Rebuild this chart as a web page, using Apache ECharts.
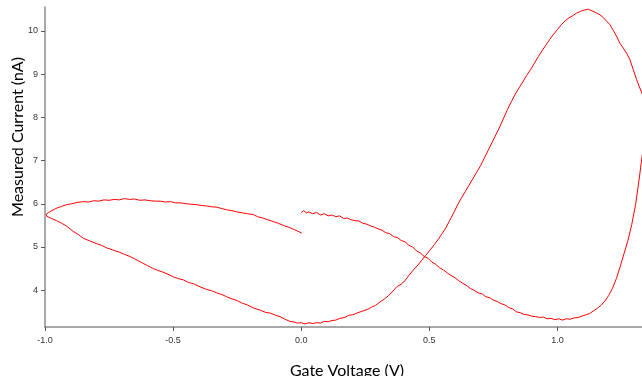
<!DOCTYPE html>
<html>
<head>
<meta charset="utf-8">
<script src="https://cdn.jsdelivr.net/npm/echarts@6/dist/echarts.min.js"></script>
<style>
html,body{margin:0;padding:0;background:#fff;}
#chart{width:642px;height:376px;}
</style>
</head>
<body>
<div id="chart"></div>
<script>
// Forward sweep (starts at 0 V, goes to +V, up the right edge)
const sweepAV = [0.000,0.010,0.020,0.030,0.045,0.060,0.075,0.090,0.105,0.120,0.135,0.150,0.165,0.180,0.195,0.210,0.225,0.240,0.255,0.270,0.285,0.300,0.315,0.330,0.345,0.360,0.375,0.390,0.405,0.420,0.435,0.450,0.465,0.480,0.495,0.510,0.525,0.540,0.555,0.570,0.585,0.600,0.615,0.630,0.645,0.660,0.675,0.690,0.705,0.720,0.735,0.750,0.765,0.780,0.795,0.810,0.825,0.840,0.855,0.870,0.885,0.900,0.915,0.930,0.945,0.960,0.975,0.990,1.005,1.020,1.035,1.050,1.065,1.080,1.095,1.110,1.125,1.140,1.155,1.170,1.185,1.200,1.215,1.230,1.245,1.260,1.275,1.290,1.305,1.320,1.330,1.345,1.350];
const sweepAI = [5.80,5.84,5.79,5.81,5.77,5.80,5.74,5.77,5.72,5.74,5.70,5.72,5.66,5.67,5.63,5.61,5.60,5.55,5.53,5.49,5.46,5.42,5.39,5.33,5.31,5.24,5.22,5.15,5.12,5.04,5.00,4.91,4.86,4.78,4.74,4.65,4.60,4.52,4.47,4.40,4.34,4.29,4.22,4.16,4.11,4.04,4.00,3.94,3.92,3.85,3.83,3.77,3.74,3.69,3.66,3.60,3.57,3.50,3.48,3.44,3.43,3.40,3.39,3.37,3.38,3.34,3.35,3.32,3.34,3.31,3.34,3.33,3.36,3.37,3.40,3.43,3.46,3.52,3.58,3.65,3.75,3.88,4.05,4.27,4.55,4.85,5.15,5.52,5.98,6.62,7.09,7.70,8.05];
// Return sweep (from right edge over the peak down to -1 V)
const sweepBV = [1.340,1.330,1.320,1.309,1.296,1.283,1.270,1.257,1.244,1.230,1.218,1.205,1.192,1.180,1.166,1.150,1.135,1.120,1.105,1.090,1.075,1.060,1.045,1.030,1.015,1.000,0.985,0.970,0.955,0.940,0.925,0.910,0.895,0.880,0.865,0.850,0.835,0.820,0.805,0.790,0.775,0.760,0.745,0.730,0.715,0.700,0.685,0.670,0.655,0.640,0.625,0.610,0.595,0.580,0.565,0.550,0.535,0.520,0.503,0.485,0.470,0.455,0.438,0.420,0.405,0.390,0.373,0.355,0.340,0.325,0.308,0.290,0.275,0.260,0.245,0.230,0.217,0.200,0.185,0.170,0.151,0.135,0.120,0.105,0.090,0.075,0.060,0.045,0.030,0.015,0.000,-0.015,-0.030,-0.044,-0.060,-0.083,-0.100,-0.120,-0.140,-0.160,-0.187,-0.210,-0.230,-0.250,-0.270,-0.291,-0.310,-0.330,-0.350,-0.370,-0.395,-0.420,-0.440,-0.460,-0.480,-0.499,-0.520,-0.540,-0.560,-0.577,-0.600,-0.620,-0.645,-0.668,-0.690,-0.710,-0.735,-0.759,-0.780,-0.800,-0.825,-0.850,-0.870,-0.890,-0.915,-0.935,-0.955,-0.975,-0.993,-1.000];
const sweepBI = [8.40,8.55,8.70,8.87,9.10,9.33,9.48,9.60,9.71,9.88,10.01,10.14,10.22,10.30,10.37,10.42,10.46,10.50,10.48,10.45,10.41,10.35,10.30,10.23,10.14,10.03,9.92,9.80,9.67,9.54,9.40,9.25,9.10,8.97,8.82,8.68,8.53,8.36,8.18,7.98,7.78,7.60,7.42,7.24,7.06,6.88,6.73,6.58,6.43,6.28,6.13,5.97,5.79,5.62,5.45,5.31,5.18,5.06,4.93,4.80,4.69,4.58,4.47,4.34,4.22,4.14,4.08,3.96,3.87,3.80,3.73,3.65,3.61,3.56,3.53,3.50,3.47,3.43,3.42,3.37,3.35,3.31,3.30,3.27,3.28,3.24,3.25,3.23,3.25,3.22,3.25,3.24,3.27,3.28,3.32,3.39,3.42,3.47,3.49,3.54,3.59,3.66,3.70,3.76,3.80,3.85,3.90,3.94,3.99,4.02,4.08,4.15,4.18,4.24,4.27,4.31,4.37,4.42,4.46,4.50,4.57,4.63,4.71,4.78,4.83,4.88,4.93,4.98,5.04,5.08,5.14,5.20,5.29,5.36,5.48,5.55,5.61,5.66,5.71,5.73];
// Final sweep (from -1 V back up to 0 V)
const sweepCV = [-0.995,-0.985,-0.968,-0.950,-0.935,-0.915,-0.895,-0.875,-0.850,-0.830,-0.810,-0.790,-0.770,-0.750,-0.730,-0.710,-0.690,-0.670,-0.650,-0.630,-0.610,-0.590,-0.570,-0.550,-0.530,-0.510,-0.490,-0.470,-0.450,-0.430,-0.410,-0.390,-0.370,-0.350,-0.330,-0.310,-0.291,-0.270,-0.250,-0.230,-0.210,-0.187,-0.170,-0.150,-0.130,-0.110,-0.090,-0.070,-0.050,-0.030,-0.015,0.002];
const sweepCI = [5.76,5.80,5.86,5.91,5.94,5.98,6.00,6.03,6.05,6.04,6.07,6.06,6.09,6.08,6.10,6.09,6.12,6.10,6.11,6.08,6.09,6.07,6.06,6.06,6.04,6.05,6.02,6.02,6.00,5.99,5.98,5.96,5.95,5.93,5.92,5.89,5.86,5.84,5.81,5.79,5.77,5.75,5.70,5.67,5.63,5.59,5.55,5.50,5.46,5.41,5.37,5.32];

const xTicks = [-1.0,-0.5,0.0,0.5,1.0];
const yTicks = [4,5,6,7,8,9,10];

const data = [];
[[sweepAV,sweepAI],[sweepBV,sweepBI],[sweepCV,sweepCI]].forEach(([v,c]) => {
  for (let i = 0; i < v.length; i++) data.push([v[i], c[i]]);
});

const chart = echarts.init(document.getElementById('chart'));
const axisColor = '#8c8c8c';
chart.setOption({
  animation: false,
  grid: {left: 45, right: 0, top: 7, bottom: 49, containLabel: false},
  xAxis: {
    type: 'value', min: -1, max: 1.33,
    splitLine: {show: false},
    axisLine: {show: true, onZero: false, lineStyle: {color: axisColor, width: 1.5}},
    axisTick: {show: true, length: 4, customValues: xTicks, lineStyle: {color: '#555'}},
    axisLabel: {customValues: xTicks, formatter: v => v.toFixed(1), color: '#333', fontSize: 9, fontFamily: 'Liberation Sans', margin: 9}
  },
  yAxis: {
    type: 'value', min: 3.15, max: 10.55,
    splitLine: {show: false},
    axisLine: {show: true, onZero: false, lineStyle: {color: axisColor, width: 1.5}},
    axisTick: {show: true, length: 4, customValues: yTicks, lineStyle: {color: '#555'}},
    axisLabel: {customValues: yTicks, color: '#333', fontSize: 9, fontFamily: 'Liberation Sans', margin: 7}
  },
  graphic: [
    {type: 'text', x: 18, y: 137, rotation: Math.PI / 2,
     style: {text: 'Measured Current (nA)', fontSize: 16, fontFamily: 'Lato', fill: '#000', align: 'center', verticalAlign: 'middle'}},
    {type: 'text', x: 347, y: 371,
     style: {text: 'Gate Voltage (V)', fontSize: 16, fontFamily: 'Lato', fill: '#000', align: 'center', verticalAlign: 'middle'}}
  ],
  series: [{
    type: 'line', data: data, showSymbol: false, symbol: 'none', clip: true,
    lineStyle: {color: '#ff0000', width: 1},
  }]
});
</script>
</body>
</html>
